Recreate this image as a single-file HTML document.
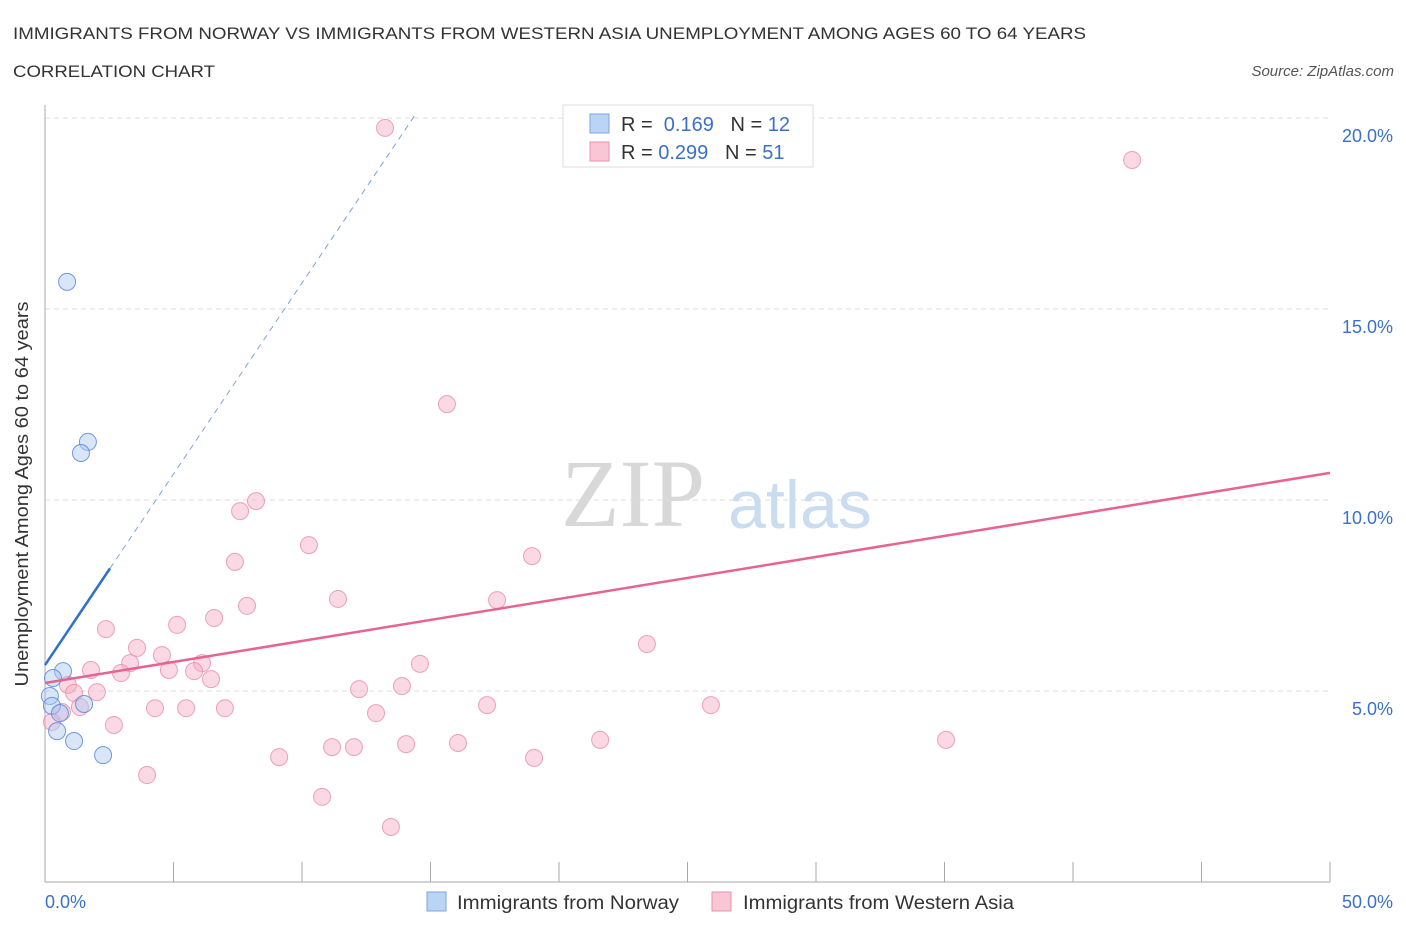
<!DOCTYPE html>
<html><head><meta charset="utf-8"><style>
body{margin:0;background:#fff;font-family:"Liberation Sans",sans-serif}
svg{display:block}
</style></head><body>
<svg id="c" width="1406" height="930">
<text x="13" y="39" font-size="17" fill="#333" textLength="1073" lengthAdjust="spacingAndGlyphs">IMMIGRANTS FROM NORWAY VS IMMIGRANTS FROM WESTERN ASIA UNEMPLOYMENT AMONG AGES 60 TO 64 YEARS</text>
<text x="13" y="77" font-size="17" fill="#333" textLength="202" lengthAdjust="spacingAndGlyphs">CORRELATION CHART</text>
<text x="1394" y="76" font-size="15" fill="#555" font-style="italic" text-anchor="end">Source: ZipAtlas.com</text>
<text x="633" y="526" font-size="96" fill="#d8d8d8" font-family="Liberation Serif,serif" text-anchor="middle">ZIP</text>
<text x="800" y="528" font-size="68" fill="#c9dcf0" text-anchor="middle">atlas</text>
<g id="grid"></g><g id="marks"></g>
<text x="28" y="494" font-size="18" fill="#333" text-anchor="middle" textLength="385" lengthAdjust="spacingAndGlyphs" transform="rotate(-90 28 494)">Unemployment Among Ages 60 to 64 years</text>
<g>
<rect x="563" y="105" width="250" height="62" fill="#fff" stroke="#ddd"/>
<rect x="590" y="114" width="19" height="19" fill="#b9d4f5" stroke="#7aa6e0"/>
<text x="621" y="131" font-size="20" fill="#333">R = <tspan fill="#3a70c9">&#160;0.169</tspan>&#160;&#160;&#160;N = <tspan fill="#3a70c9">12</tspan></text>
<rect x="590" y="142" width="19" height="19" fill="#f8c6d5" stroke="#eb92ae"/>
<text x="621" y="159" font-size="20" fill="#333">R = <tspan fill="#3a70c9">0.299</tspan>&#160;&#160;&#160;N = <tspan fill="#3a70c9">51</tspan></text>
</g>
<g>
<rect x="427" y="892" width="19" height="19" fill="#b9d4f5" stroke="#7aa6e0"/>
<text x="457" y="909" font-size="19" fill="#333" textLength="222" lengthAdjust="spacingAndGlyphs">Immigrants from Norway</text>
<rect x="712" y="892" width="19" height="19" fill="#f8c6d5" stroke="#eb92ae"/>
<text x="743" y="909" font-size="19" fill="#333" textLength="271" lengthAdjust="spacingAndGlyphs">Immigrants from Western Asia</text>
</g>
</svg>
<script>
const yTicks=[5,10,15,20];
const yTickLabels=["5.0%","10.0%","15.0%","20.0%"];
const xTickLabels=["0.0%","50.0%"];
const norwayX=[0.86,1.67,1.40,0.70,0.31,0.19,0.27,0.58,1.52,0.47,1.13,2.26];
const norwayY=[15.71,11.52,11.23,5.52,5.34,4.87,4.61,4.42,4.66,3.95,3.69,3.32];
const asiaX=[13.23,42.30,15.64,8.21,7.59,10.27,18.95,7.39,11.40,17.59,7.86,6.58,5.14,2.37,23.42,3.58,4.55,3.31,6.11,1.79,14.59,4.82,5.80,2.96,6.46,0.89,13.89,12.22,2.02,1.13,17.20,25.91,4.28,5.49,7.00,1.36,0.66,12.88,2.68,9.11,11.17,12.02,14.05,16.07,21.60,35.06,19.03,3.97,10.78,13.46,0.27];
const asiaY=[19.74,18.90,12.51,9.97,9.71,8.82,8.53,8.38,7.41,7.38,7.23,6.91,6.73,6.62,6.23,6.13,5.94,5.73,5.73,5.55,5.71,5.55,5.52,5.47,5.31,5.16,5.13,5.05,4.97,4.95,4.63,4.63,4.55,4.55,4.55,4.58,4.45,4.42,4.11,3.27,3.53,3.53,3.61,3.64,3.72,3.72,3.25,2.80,2.23,1.44,4.19];
const asiaTrend=[5.21,10.71];
const norwayTrend=[5.68,1.0];
const X=v=>45+v*25.7, Y=v=>882-v*38.2;
const NS="http://www.w3.org/2000/svg";
function mk(t,a,p){const e=document.createElementNS(NS,t);for(const k in a)e.setAttribute(k,a[k]);p.appendChild(e);return e;}
const g=document.getElementById('grid'), m=document.getElementById('marks');
yTicks.forEach((v,i)=>{
 const l=mk('line',{x1:45,x2:1330,y1:Y(v),y2:Y(v),stroke:'#ddd','stroke-dasharray':'5,4'},g);
 
 
 const t=mk('text',{x:1393,y:Y(v)+24,'font-size':18,fill:'#3a70c9','text-anchor':'end'},g);t.textContent=yTickLabels[i];
 
 
});
const ax=mk('path',{d:'M45 105V882H1330',stroke:'#aaa',fill:'none'},g);


for(let i=0;i<=10;i++){const tk=mk('line',{x1:X(i*5),x2:X(i*5),y1:862,y2:882,stroke:'#aaa'},g);
 
 }
[[0,'start',45],[50,'end',1393]].forEach((d,i)=>{const t=mk('text',{x:d[2],y:908,'font-size':18,fill:'#3a70c9','text-anchor':d[1]},g);t.textContent=xTickLabels[i];
 
 });
asiaX.forEach((x,i)=>{const c=mk('circle',{cx:X(x),cy:Y(asiaY[i]),r:8.5,fill:'rgba(245,170,195,0.45)',stroke:'rgba(232,140,170,0.8)','stroke-width':1},m);
 
 });
norwayX.forEach((x,i)=>{const c=mk('circle',{cx:X(x),cy:Y(norwayY[i]),r:8.5,fill:'rgba(170,200,240,0.45)',stroke:'rgba(80,130,220,0.8)','stroke-width':1},m);
 
 });
const pl=mk('line',{x1:X(0),y1:Y(asiaTrend[0]),x2:X(50),y2:Y(asiaTrend[1]),stroke:'#e8648f','stroke-width':2.5},m);


const bl=mk('line',{x1:X(0),y1:Y(norwayTrend[0]),x2:X(2.53),y2:Y(norwayTrend[0]+norwayTrend[1]*2.53),stroke:'#2f6fd0','stroke-width':2.5},m);


const bd=mk('line',{x1:X(2.53),y1:Y(norwayTrend[0]+norwayTrend[1]*2.53),x2:X(14.4),y2:Y(norwayTrend[0]+norwayTrend[1]*14.4),stroke:'#7aa3e0','stroke-width':1,'stroke-dasharray':'6,5'},m);


</script>
</body></html>
